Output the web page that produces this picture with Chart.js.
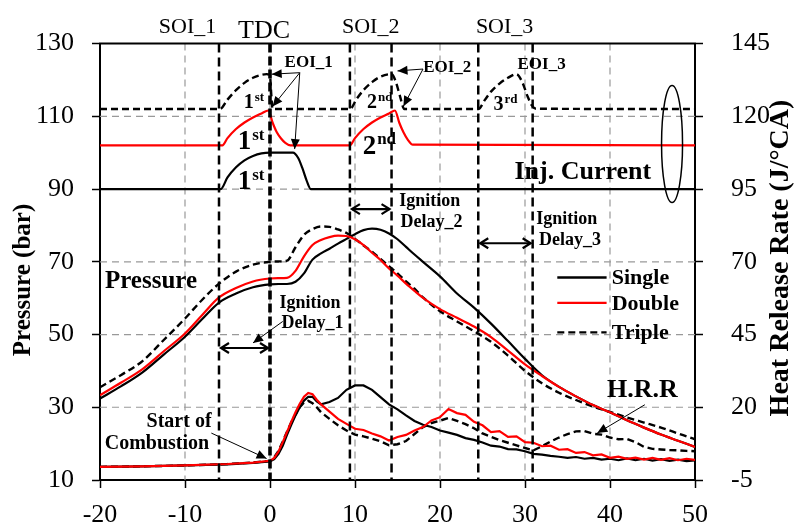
<!DOCTYPE html>
<html>
<head>
<meta charset="utf-8">
<script src="https://cdn.jsdelivr.net/npm/chart.js@4"></script>
<style>
  html, body { margin: 0; padding: 0; background: #fff; }
  #wrap { width: 797px; height: 530px; position: relative; }
</style>
</head>
<body>
<div id="wrap"><canvas id="chart"></canvas></div>
<script>
const FONT = '"Liberation Serif", "Times New Roman", serif';

// ---- tick labels
const angleTicks = [-20, -10, 0, 10, 20, 30, 40, 50];
const pressureTicks = [10, 30, 50, 70, 90, 110, 130];
const hrrTicks = [-5, 20, 45, 70, 95, 120, 145];

// ---- cylinder pressure (bar) vs crank angle (°CA)
const caP = [-20, -17.5, -15, -12.5, -10, -8, -6, -4, -2, 0,
  1, 2, 3, 4, 5, 6, 7, 8, 9, 10, 11, 12, 13, 14, 15, 16, 17, 18,
  20, 22, 24, 26, 28, 30, 32, 34, 36, 38, 40, 42, 44, 46, 48, 50];
const pressureSingle = [32.4, 35.8, 39.6, 44.5, 49.4, 54.2, 58.8, 61.3, 63.0, 63.8,
  63.9, 63.9, 64.5, 66.8, 70.6, 72.3, 73.6, 75.0, 76.3, 77.6, 78.7, 79.1, 78.8, 77.8, 76.2, 74.1, 72.0, 70.0,
  66.0, 61.3, 57.4, 53.0, 48.2, 43.3, 38.8, 35.6, 33.0, 30.6, 28.6, 26.4, 24.4, 22.5, 20.8, 19.1];
const pressureDouble = [33.3, 36.8, 40.5, 45.4, 50.3, 55.3, 60.2, 62.8, 64.6, 65.4,
  65.5, 65.6, 67.5, 71.5, 74.6, 76.0, 76.8, 77.2, 77.1, 76.2, 74.6, 72.5, 70.5, 68.2, 66.2, 64.0, 62.0, 60.1,
  57.0, 54.6, 52.2, 49.3, 45.6, 41.8, 38.6, 35.6, 33.0, 30.6, 28.6, 26.4, 24.4, 22.5, 20.8, 19.1];
const pressureTriple = [35.5, 38.9, 42.7, 48.5, 54.4, 59.5, 64.0, 67.3, 69.2, 70.0,
  70.1, 70.3, 74.0, 77.4, 79.0, 79.7, 79.6, 78.9, 77.9, 76.3, 74.5, 72.8, 70.8, 68.8, 66.8, 64.6, 62.6, 60.2,
  56.4, 53.6, 50.9, 48.0, 44.2, 40.0, 36.6, 34.0, 32.0, 30.2, 28.7, 27.2, 25.8, 24.4, 22.8, 21.2];

// ---- heat release rate (J/°CA)
const caH = [-20, -15, -10, -5, -2, 0, 0.5, 1, 1.5, 2, 2.5, 3, 3.5, 4, 4.5, 5, 5.5,
  6, 7, 8, 9, 10, 11, 12, 13, 14, 15, 16, 17, 18, 19, 20, 21, 22, 23, 24, 25, 26, 27, 28,
  29, 30, 31, 32, 33, 34, 35, 36, 37, 38, 39, 40, 41, 42, 43, 44, 45, 46, 47, 48, 49, 50];
const hrrSingle = [-0.5, -0.3, 0, 0.4, 0.9, 1.4, 2.2, 4.0, 6.8, 10.5, 14.0, 17.2, 20.0, 22.3, 23.6, 23.6, 22.0,
  21.0, 21.8, 23.2, 26.0, 27.5, 27.5, 26.0, 23.5, 21.0, 19.3, 17.2, 15.3, 14.0, 13.2, 12.0, 11.3, 10.5, 9.4, 8.8, 7.9, 6.8, 6.5, 5.6,
  5.5, 4.9, 4.0, 3.7, 3.3, 3.0, 2.6, 2.9, 2.3, 2.6, 2.0, 2.3, 1.8, 2.4, 1.8, 2.3, 1.7, 2.2, 1.6, 2.0, 1.5, 1.7];
const hrrDouble = [-0.5, -0.3, 0, 0.5, 1.0, 1.6, 2.6, 4.8, 8.0, 11.5, 15.0, 18.3, 21.2, 23.6, 24.9, 24.5, 22.6,
  21.0, 18.5, 16.0, 14.3, 12.6, 12.2, 11.0, 10.0, 8.6, 9.8, 10.5, 12.0, 13.2, 15.5, 16.6, 19.4, 18.0, 17.4, 15.0, 13.8, 11.5, 11.8, 9.8,
  10.0, 8.0, 7.8, 6.6, 6.8, 5.4, 5.6, 4.3, 4.6, 3.5, 3.8, 2.6, 3.0, 2.3, 2.7, 2.0, 2.6, 1.9, 2.5, 1.8, 2.3, 1.9];
const hrrTriple = [-0.5, -0.3, 0, 0.5, 1.0, 1.6, 2.8, 5.0, 8.2, 11.6, 14.8, 17.6, 20.0, 21.6, 22.2, 21.4, 20.0,
  18.3, 16.0, 13.8, 12.0, 10.6, 10.0, 9.2, 8.3, 6.9, 7.3, 8.4, 10.8, 13.2, 14.6, 15.4, 16.3, 15.3, 14.2, 12.8, 11.0, 9.8, 8.7, 7.8,
  6.9, 6.0, 5.2, 6.6, 8.2, 9.6, 10.8, 11.7, 11.8, 10.9, 10.6, 9.6, 9.0, 9.1, 8.0, 6.4, 5.7, 5.5, 5.3, 5.2, 5.0, 4.9];

// ---- injector current traces (drawn on the pressure scale, offset per strategy)
const caCurSingle = [-20, -5.8, -5, -4, -3, -2, -1, 0, 2.7, 3.3, 3.8, 4.3, 4.8, 50];
const curSingle = [90, 90, 93.2, 96, 97.9, 99.1, 99.8, 100, 100, 98.6, 95.8, 92.4, 90, 90];
const caCurDouble = [-20, -5.6, -5, -4, -3, -2, -1, -0.2, 0.3, 0.8, 1.3, 1.8, 2.4,
  9.4, 10, 11, 12, 13, 14, 14.7, 15.2, 15.7, 16.2, 16.8, 50];
const curDouble = [102, 102, 104, 106.5, 108.3, 109.7, 110.8, 111.6, 108.3, 105.6, 103.9, 102.7, 102,
  102, 104, 106.5, 108.3, 109.7, 110.8, 111.6, 108.3, 105.6, 103.6, 102.2, 102];
const caCurTriple = [-20, -5.9, -5, -4, -3, -2, -1, -0.4, 0, 0.15, 0.3,
  9.4, 10.2, 11, 12, 13, 14.3, 14.8, 15.3, 15.8,
  24.5, 25.3, 26, 27, 28, 29, 29.7, 30.3, 30.8, 31.3, 50];
const curTriple = [112, 112, 114.6, 117.2, 119.2, 120.6, 121.4, 121.6, 121.2, 116, 112,
  112, 114.8, 117.2, 119.4, 120.9, 121.6, 119.5, 115.5, 112,
  112, 114.6, 116.8, 119, 120.6, 121.6, 119.3, 115.5, 113, 112.1, 112];

const seriesNames = ['Single', 'Double', 'Triple'];

const pts = (xs, ys) => xs.map((x, i) => ({ x, y: ys[i] }));

const RED = '#ff0000', BLACK = '#000000';
const DASH = [7, 4];

function line(data, color, dashed, axis, smooth, extra) {
  return Object.assign({
    data, borderColor: color, backgroundColor: color,
    borderWidth: dashed ? 2.4 : 2.2, borderDash: dashed ? DASH : [],
    yAxisID: axis, pointRadius: 0, fill: false,
    cubicInterpolationMode: smooth ? 'monotone' : 'default', tension: 0
  }, extra || {});
}

// ---- annotations (positions in crank angle / pressure units)
const eventLines = [
  { x: -6, w: 2.5 }, { x: 0, w: 3.6 }, { x: 9.4, w: 2.5 },
  { x: 14.3, w: 2.5 }, { x: 24.5, w: 2.5 }, { x: 30.9, w: 2.5 }
];
const textLabels = [
  { t: 'SOI_1', x: -9.7, y: 134.6, size: 22, bold: false },
  { t: 'TDC', x: -0.7, y: 133.5, size: 26, bold: false },
  { t: 'SOI_2', x: 11.85, y: 134.6, size: 22, bold: false },
  { t: 'SOI_3', x: 27.6, y: 134.6, size: 22, bold: false },
  { t: 'EOI_1', x: 4.55, y: 124.9, size: 17, bold: true },
  { t: 'EOI_2', x: 20.85, y: 123.3, size: 17, bold: true },
  { t: 'EOI_3', x: 31.95, y: 124.3, size: 17, bold: true },
  { t: 'Inj. Current', x: 36.8, y: 94.7, size: 26, bold: true },
  { t: 'Pressure', x: -14.0, y: 64.5, size: 25, bold: true },
  { t: 'Ignition', x: 4.7, y: 58.7, size: 18, bold: true },
  { t: 'Delay_1', x: 5.0, y: 53.0, size: 18, bold: true },
  { t: 'Ignition', x: 18.8, y: 86.7, size: 18, bold: true },
  { t: 'Delay_2', x: 19.0, y: 80.8, size: 18, bold: true },
  { t: 'Ignition', x: 34.9, y: 81.8, size: 18, bold: true },
  { t: 'Delay_3', x: 35.3, y: 75.9, size: 18, bold: true },
  { t: 'Start of', x: -10.7, y: 26.1, size: 20, bold: true },
  { t: 'Combustion', x: -13.3, y: 20.0, size: 20, bold: true },
  { t: 'H.R.R', x: 43.8, y: 34.8, size: 26, bold: true }
];
const ordinals = [
  { m: '1', s: 'st', x: -3.1, y: 112.2, size: 20, sub: 13 },
  { m: '1', s: 'st', x: -3.8, y: 100.9, size: 27, sub: 17 },
  { m: '1', s: 'st', x: -3.8, y: 89.9, size: 27, sub: 17 },
  { m: '2', s: 'nd', x: 11.4, y: 112.2, size: 20, sub: 13 },
  { m: '2', s: 'nd', x: 10.9, y: 99.6, size: 27, sub: 17 },
  { m: '3', s: 'rd', x: 26.3, y: 111.7, size: 20, sub: 13 }
];
const delayArrows = [
  { x1: -6, x2: 0, y: 46.3 }, { x1: 9.4, x2: 14.3, y: 84.5 }, { x1: 24.5, x2: 30.9, y: 75.1 }
];
const leaders = [
  [3.5, 122.0, 0.2, 121.6], [3.5, 122.0, 0.3, 112.7], [3.5, 122.0, 2.9, 101.0],
  [18.0, 123.0, 15.0, 122.5], [18.0, 123.0, 15.7, 112.8],
  [1.5, 53.6, -2.0, 47.7], [-6.9, 22.9, -0.4, 15.9], [44.1, 30.7, 38.5, 22.9]
];
const legendPos = { x1: 33.8, x2: 39.6, tx: 40.2, ys: [65.7, 58.7, 50.6] };

function font(size, bold) { return (bold ? 'bold ' : '') + size + 'px ' + FONT; }

function head(ctx, x1, y1, x2, y2, len, half) {
  const a = Math.atan2(y2 - y1, x2 - x1);
  const c = Math.cos(a), s = Math.sin(a);
  ctx.beginPath();
  ctx.moveTo(x2, y2);
  ctx.lineTo(x2 - len * c + half * s, y2 - len * s - half * c);
  ctx.lineTo(x2 - len * c - half * s, y2 - len * s + half * c);
  ctx.closePath();
  ctx.fill();
}

// dashed grey grid under the curves
const dashedGrid = {
  id: 'dashedGrid',
  beforeDatasetsDraw(chart) {
    const { ctx, chartArea: a, scales } = chart;
    ctx.save();
    ctx.strokeStyle = '#999999';
    ctx.lineWidth = 1.2;
    ctx.setLineDash([7, 5]);
    angleTicks.slice(1, -1).forEach(v => {
      const x = scales.x.getPixelForValue(v);
      ctx.beginPath(); ctx.moveTo(x, a.top); ctx.lineTo(x, a.bottom); ctx.stroke();
    });
    pressureTicks.slice(1, -1).forEach(v => {
      const y = scales.y.getPixelForValue(v);
      ctx.beginPath(); ctx.moveTo(a.left, y); ctx.lineTo(a.right, y); ctx.stroke();
    });
    ctx.restore();
  }
};

const overlay = {
  id: 'overlay',
  afterDatasetsDraw(chart) {
    const { ctx, chartArea: a, scales } = chart;
    const X = v => scales.x.getPixelForValue(v);
    const Y = v => scales.y.getPixelForValue(v);
    ctx.save();
    ctx.strokeStyle = BLACK; ctx.fillStyle = BLACK;

    // event lines (SOI / TDC / EOI)
    eventLines.forEach(e => {
      ctx.lineWidth = e.w;
      ctx.setLineDash(e.w > 3 ? [9, 4] : [9, 5]);
      ctx.beginPath(); ctx.moveTo(X(e.x), a.top); ctx.lineTo(X(e.x), a.bottom); ctx.stroke();
    });
    ctx.setLineDash([]);

    // top frame
    ctx.lineWidth = 2;
    ctx.beginPath(); ctx.moveTo(a.left - 1, a.top); ctx.lineTo(a.right + 1, a.top); ctx.stroke();

    // ignition delay double arrows
    ctx.lineWidth = 2.2;
    delayArrows.forEach(d => {
      const x1 = X(d.x1) + 2, x2 = X(d.x2) - 2, y = Y(d.y);
      ctx.beginPath(); ctx.moveTo(x1, y); ctx.lineTo(x2, y); ctx.stroke();
      ctx.beginPath();
      ctx.moveTo(x1 + 8, y - 5); ctx.lineTo(x1, y); ctx.lineTo(x1 + 8, y + 5);
      ctx.moveTo(x2 - 8, y - 5); ctx.lineTo(x2, y); ctx.lineTo(x2 - 8, y + 5);
      ctx.stroke();
    });

    // leader arrows
    ctx.lineWidth = 1;
    leaders.forEach(l => {
      const x1 = X(l[0]), y1 = Y(l[1]), x2 = X(l[2]), y2 = Y(l[3]);
      ctx.beginPath(); ctx.moveTo(x1, y1); ctx.lineTo(x2, y2); ctx.stroke();
      head(ctx, x1, y1, x2, y2, 10, 4.5);
    });

    // ellipse around the current traces
    ctx.lineWidth = 1.5;
    ctx.beginPath();
    ctx.ellipse(X(47.3), Y(102.4), 10.5, 58.5, 0, 0, Math.PI * 2);
    ctx.stroke();

    // text
    ctx.textAlign = 'center'; ctx.textBaseline = 'middle';
    textLabels.forEach(l => {
      ctx.font = font(l.size, l.bold);
      ctx.fillText(l.t, X(l.x), Y(l.y));
    });
    ctx.textAlign = 'left'; ctx.textBaseline = 'alphabetic';
    ordinals.forEach(o => {
      ctx.font = font(o.size, true);
      const x = X(o.x), y = Y(o.y);
      ctx.fillText(o.m, x, y);
      const w = ctx.measureText(o.m).width;
      ctx.font = font(o.sub, true);
      ctx.fillText(o.s, x + w + 1, y - o.size * 0.36);
    });

    // legend
    const ds = chart.data.datasets.filter(d => d.legendLabel);
    seriesNames.forEach((name, i) => {
      const d = ds.find(s => s.legendLabel === name);
      const y = Y(legendPos.ys[i]);
      ctx.strokeStyle = d.borderColor; ctx.lineWidth = 2.4;
      ctx.setLineDash(d.borderDash);
      ctx.beginPath(); ctx.moveTo(X(legendPos.x1), y); ctx.lineTo(X(legendPos.x2), y); ctx.stroke();
      ctx.setLineDash([]);
      ctx.font = font(22, true); ctx.textBaseline = 'middle';
      ctx.fillText(name, X(legendPos.tx), y + 1);
    });

    // axis titles
    ctx.fillStyle = BLACK;
    ctx.textAlign = 'center'; ctx.textBaseline = 'middle';
    ctx.font = font(25, true);
    ctx.save(); ctx.translate(24, 280); ctx.rotate(-Math.PI / 2);
    ctx.fillText('Pressure (bar)', 0, 0); ctx.restore();
    ctx.font = font(28, true);
    ctx.save(); ctx.translate(781, 258); ctx.rotate(-Math.PI / 2);
    ctx.fillText('Heat Release Rate (J/\u00B0CA)', 0, 0); ctx.restore();

    ctx.restore();
  }
};

const tickFont = { family: FONT, size: 26 };

new Chart(document.getElementById('chart'), {
  type: 'line',
  data: {
    datasets: [
      line(pts(caP, pressureDouble), RED, false, 'y', true, { legendLabel: 'Double' }),
      line(pts(caH, hrrDouble), RED, false, 'y1', false),
      line(pts(caCurDouble, curDouble), RED, false, 'y', true),
      line(pts(caP, pressureSingle), BLACK, false, 'y', true, { legendLabel: 'Single' }),
      line(pts(caH, hrrSingle), BLACK, false, 'y1', false),
      line(pts(caCurSingle, curSingle), BLACK, false, 'y', true),
      line(pts(caP, pressureTriple), BLACK, true, 'y', true, { legendLabel: 'Triple' }),
      line(pts(caH, hrrTriple), BLACK, true, 'y1', false),
      line(pts(caCurTriple, curTriple), BLACK, true, 'y', true)
    ]
  },
  options: {
    responsive: true,
    maintainAspectRatio: false,
    animation: false,
    layout: { padding: { top: 34, left: 0, right: 0, bottom: 0 } },
    plugins: { legend: { display: false }, tooltip: { enabled: false } },
    scales: {
      x: {
        type: 'linear', min: -20, max: 50,
        afterBuildTicks: s => { s.ticks = angleTicks.map(v => ({ value: v })); },
        afterFit: s => { s.height = 50; },
        grid: { drawOnChartArea: false, tickLength: 8, tickColor: BLACK, tickWidth: 1.5 },
        border: { display: true, color: BLACK, width: 2 },
        ticks: { font: tickFont, color: BLACK, padding: 12, maxRotation: 0 }
      },
      y: {
        type: 'linear', position: 'left', min: 10, max: 130,
        afterBuildTicks: s => { s.ticks = pressureTicks.map(v => ({ value: v })); },
        afterFit: s => { s.width = 100; },
        grid: { drawOnChartArea: false, tickLength: 8, tickColor: BLACK, tickWidth: 1.5 },
        border: { display: true, color: BLACK, width: 2 },
        ticks: { font: tickFont, color: BLACK, padding: 18 }
      },
      y1: {
        type: 'linear', position: 'right', min: -5, max: 145,
        afterBuildTicks: s => { s.ticks = hrrTicks.map(v => ({ value: v })); },
        afterFit: s => { s.width = 102; },
        grid: { drawOnChartArea: false, tickLength: 8, tickColor: BLACK, tickWidth: 1.5 },
        border: { display: true, color: BLACK, width: 2 },
        ticks: { font: tickFont, color: BLACK, padding: 28 }
      }
    }
  },
  plugins: [dashedGrid, overlay]
});
</script>
</body>
</html>
